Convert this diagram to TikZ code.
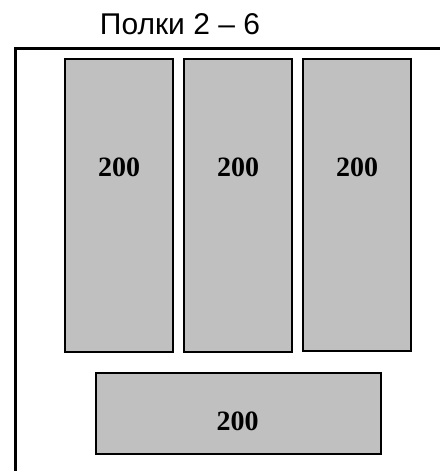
\documentclass[tikz,border=0pt]{standalone}
\usepackage{fontspec}
\setmainfont{Liberation Serif}
\newfontfamily\arialf{Liberation Sans}
\begin{document}
\begin{tikzpicture}[x=1pt,y=-1pt,
  shelf/.style={draw=black,line width=1.7pt,fill=shelfgray,inner sep=0pt},
  numlbl/.style={font=\fontsize{28}{30}\selectfont\bfseries,inner sep=0pt}]
\definecolor{shelfgray}{HTML}{C0C0C0}
\useasboundingbox (0,0) rectangle (440,471);
\draw[line width=2.8pt] (15.2,471) -- (15.2,48.7) -- (440,48.7);
\node[font=\arialf\fontsize{30}{32}\selectfont,anchor=base,inner sep=0pt] (title) at (180,34.3) {Полки 2 – 6};
\draw[shelf] (65.3,59.3) rectangle (172.7,351.7);
\draw[shelf] (184.3,59.3) rectangle (291.7,351.7);
\draw[shelf] (303.3,59.3) rectangle (410.7,350.7);
\draw[shelf] (96.3,373) rectangle (380.7,454.3);
\node[numlbl] (a) at (119,167) {200};
\node[numlbl] (b) at (238,167) {200};
\node[numlbl] (c) at (357,167) {200};
\node[numlbl] (d) at (237.5,421) {200};
\end{tikzpicture}
\end{document}
